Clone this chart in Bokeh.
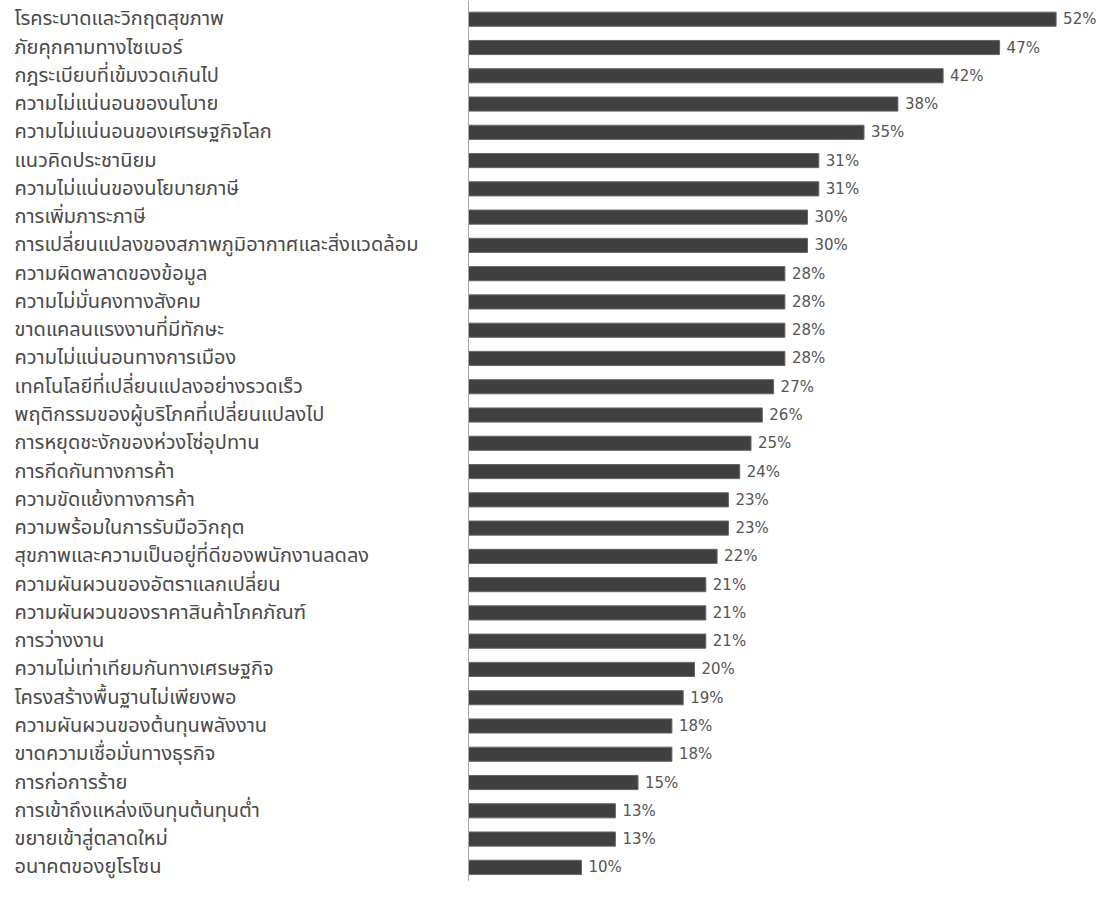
from bokeh.plotting import figure
from bokeh.models import ColumnDataSource, Range1d, Span
from bokeh.embed import file_html
from bokeh.resources import INLINE
from bokeh.core.properties import value

categories = [
    "โรคระบาดและวิกฤตสุขภาพ",
    "ภัยคุกคามทางไซเบอร์",
    "กฎระเบียบที่เข้มงวดเกินไป",
    "ความไม่แน่นอนของนโบาย",
    "ความไม่แน่นอนของเศรษฐกิจโลก",
    "แนวคิดประชานิยม",
    "ความไม่แน่นของนโยบายภาษี",
    "การเพิ่มภาระภาษี",
    "การเปลี่ยนแปลงของสภาพภูมิอากาศและสิ่งแวดล้อม",
    "ความผิดพลาดของข้อมูล",
    "ความไม่มั่นคงทางสังคม",
    "ขาดแคลนแรงงานที่มีทักษะ",
    "ความไม่แน่นอนทางการเมือง",
    "เทคโนโลยีที่เปลี่ยนแปลงอย่างรวดเร็ว",
    "พฤติกรรมของผู้บริโภคที่เปลี่ยนแปลงไป",
    "การหยุดชะงักของห่วงโซ่อุปทาน",
    "การกีดกันทางการค้า",
    "ความขัดแย้งทางการค้า",
    "ความพร้อมในการรับมือวิกฤต",
    "สุขภาพและความเป็นอยู่ที่ดีของพนักงานลดลง",
    "ความผันผวนของอัตราแลกเปลี่ยน",
    "ความผันผวนของราคาสินค้าโภคภัณฑ์",
    "การว่างงาน",
    "ความไม่เท่าเทียมกันทางเศรษฐกิจ",
    "โครงสร้างพื้นฐานไม่เพียงพอ",
    "ความผันผวนของต้นทุนพลังงาน",
    "ขาดความเชื่อมั่นทางธุรกิจ",
    "การก่อการร้าย",
    "การเข้าถึงแหล่งเงินทุนต้นทุนต่ำ",
    "ขยายเข้าสู่ตลาดใหม่",
    "อนาคตของยูโรโซน",
]
values = [52, 47, 42, 38, 35, 31, 31, 30, 30, 28, 28, 28, 28, 27, 26, 25,
          24, 23, 23, 22, 21, 21, 21, 20, 19, 18, 18, 15, 13, 13, 10]
value_labels = [f"{v}%" for v in values]

W, H = 1104, 881
PX_PER_UNIT = 11.3
AXIS_PX = 468
x_start = -AXIS_PX / PX_PER_UNIT
x_end = x_start + W / PX_PER_UNIT
label_x = x_start + 14 / PX_PER_UNIT

n = len(categories)
BAND_PX = 28.27
TOP_PX = 4.6
y_top = -0.5 - TOP_PX / BAND_PX
y_bottom = y_top + H / BAND_PX

src = ColumnDataSource(dict(
    pos=list(range(n)),
    cat=categories,
    val=values,
    vlab=value_labels,
    lx=[label_x] * n,
))

p = figure(
    width=W, height=H,
    y_range=Range1d(y_bottom, y_top),
    x_range=Range1d(x_start, x_end),
    output_backend="svg", toolbar_location=None,
    min_border=0, outline_line_color=None,
)
p.axis.visible = False
p.grid.visible = False

p.hbar(y="pos", left=0, right="val", height=0.5, source=src,
       fill_color="#404040", line_color="#666666", line_width=1)

p.add_layout(Span(location=0, dimension="height", line_color="#a8a8a8", line_width=1))

p.text(x="lx", y="pos", text="cat", source=src,
       text_align="left", text_baseline="middle",
       text_font=value("Noto Sans Thai, Noto Sans, sans-serif"),
       text_font_size="20px", text_color="#4a4a4a")

p.text(x="val", y="pos", text="vlab", source=src, x_offset=7,
       text_align="left", text_baseline="middle",
       text_font=value("DejaVu Sans"),
       text_font_size="15px", text_color="#555555")

open("out.html", "w").write(file_html(p, INLINE))
